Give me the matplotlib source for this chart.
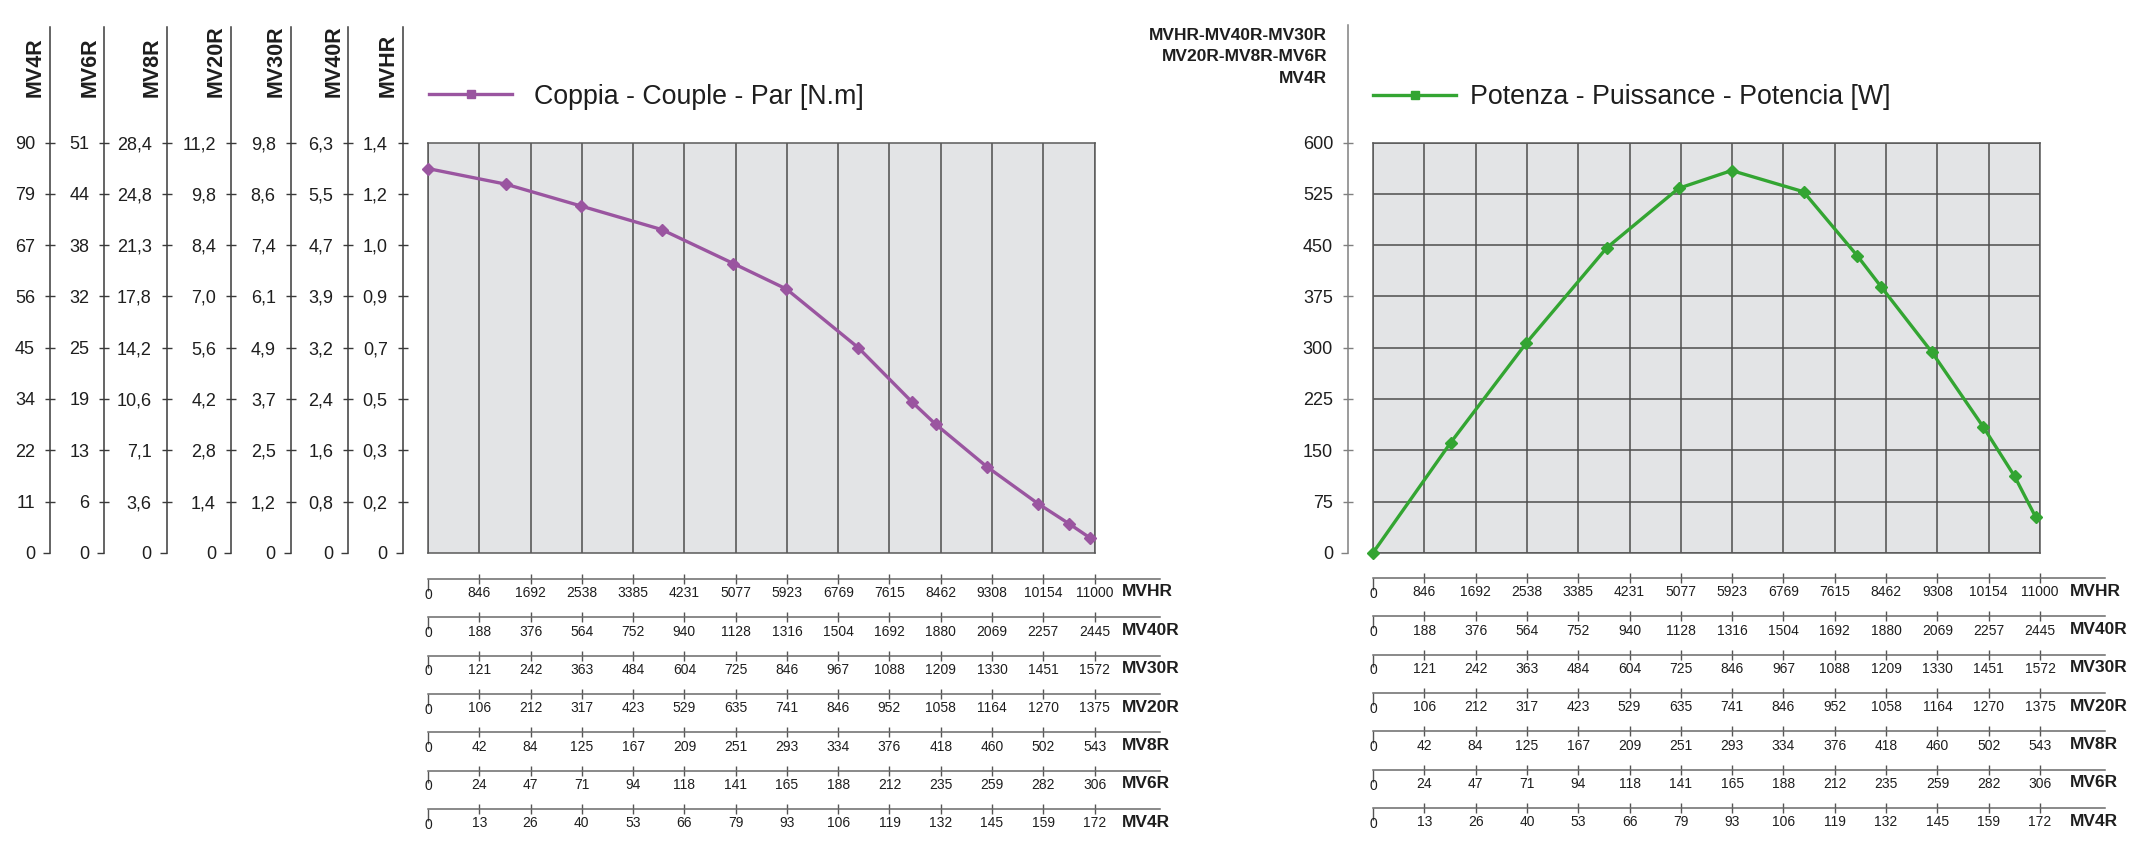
import matplotlib
matplotlib.use('Agg')
import matplotlib.pyplot as plt
from matplotlib.lines import Line2D

plt.rcParams['font.family'] = ['Liberation Sans Narrow', 'Liberation Sans', 'DejaVu Sans']

W, H, DPI = 2152, 868, 100

# ---------------- data ----------------
rpm_mvhr = [0, 1280, 2530, 3855, 5040, 5915, 7100, 7990, 8380, 9220, 10065, 10580, 10930]
torque_nm = [1.311, 1.258, 1.183, 1.103, 0.987, 0.900, 0.700, 0.514, 0.438, 0.294, 0.168, 0.099, 0.050]
power_w = [0, 161, 307, 446, 533, 559, 528, 434, 389, 293, 184, 112, 52]

y_models = ['MV4R', 'MV6R', 'MV8R', 'MV20R', 'MV30R', 'MV40R', 'MVHR']
t_mv4r = ['0', '11', '22', '34', '45', '56', '67', '79', '90']
t_mv6r = ['0', '6', '13', '19', '25', '32', '38', '44', '51']
t_mv8r = ['0', '3,6', '7,1', '10,6', '14,2', '17,8', '21,3', '24,8', '28,4']
t_mv20r = ['0', '1,4', '2,8', '4,2', '5,6', '7,0', '8,4', '9,8', '11,2']
t_mv30r = ['0', '1,2', '2,5', '3,7', '4,9', '6,1', '7,4', '8,6', '9,8']
t_mv40r = ['0', '0,8', '1,6', '2,4', '3,2', '3,9', '4,7', '5,5', '6,3']
t_mvhr = ['0', '0,2', '0,3', '0,5', '0,7', '0,9', '1,0', '1,2', '1,4']
torque_tick_labels = [t_mv4r, t_mv6r, t_mv8r, t_mv20r, t_mv30r, t_mv40r, t_mvhr]

power_ticks = [0, 75, 150, 225, 300, 375, 450, 525, 600]

x_models = ['MVHR', 'MV40R', 'MV30R', 'MV20R', 'MV8R', 'MV6R', 'MV4R']
s_mvhr = ['0', '846', '1692', '2538', '3385', '4231', '5077', '5923', '6769', '7615', '8462', '9308', '10154', '11000']
s_mv40r = ['0', '188', '376', '564', '752', '940', '1128', '1316', '1504', '1692', '1880', '2069', '2257', '2445']
s_mv30r = ['0', '121', '242', '363', '484', '604', '725', '846', '967', '1088', '1209', '1330', '1451', '1572']
s_mv20r = ['0', '106', '212', '317', '423', '529', '635', '741', '846', '952', '1058', '1164', '1270', '1375']
s_mv8r = ['0', '42', '84', '125', '167', '209', '251', '293', '334', '376', '418', '460', '502', '543']
s_mv6r = ['0', '24', '47', '71', '94', '118', '141', '165', '188', '212', '235', '259', '282', '306']
s_mv4r = ['0', '13', '26', '40', '53', '66', '79', '93', '106', '119', '132', '145', '159', '172']
speed_tick_labels = [s_mvhr, s_mv40r, s_mv30r, s_mv20r, s_mv8r, s_mv6r, s_mv4r]

rpm_max = 11000
torque_max = 1.4
power_max = 600

legend_torque = 'Coppia - Couple - Par [N.m]'
legend_power = 'Potenza - Puissance - Potencia [W]'
power_models_title = ['MVHR-MV40R-MV30R', 'MV20R-MV8R-MV6R', 'MV4R']

# ---------------- style ----------------
PURPLE = '#9a55a0'
GREEN = '#33a532'
BG = '#e3e4e6'
GRID = '#4d4d4d'
TXT = '#1e1e1e'

fig = plt.figure(figsize=(W / DPI, H / DPI), dpi=DPI)
fig.patch.set_facecolor('white')


def add_ax(x0, y0, x1, y1):
    return fig.add_axes([x0 / W, 1 - y1 / H, (x1 - x0) / W, (y1 - y0) / H])


def fx(x):
    return x / W


def fy(y):
    return 1 - y / H


PT, PB = 142.5, 552.8
LX0, LX1 = 428, 1094.6
RX0, RX1 = 1373, 2040
NDIV_X = 13
NDIV_Y = 8


def style_plot(ax, ymax, hgrid):
    ax.set_facecolor(BG)
    ax.set_xlim(0, rpm_max)
    ax.set_ylim(0, ymax)
    ax.set_xticks([rpm_max * i / NDIV_X for i in range(NDIV_X + 1)])
    ax.set_yticks([ymax * i / NDIV_Y for i in range(NDIV_Y + 1)])
    ax.tick_params(length=0, labelbottom=False, labelleft=False)
    ax.grid(axis='x', color=GRID, lw=1.1)
    if hgrid:
        ax.grid(axis='y', color=GRID, lw=1.1)
    for s in ax.spines.values():
        s.set_color('#5a5a5a')
        s.set_linewidth(1.1)
    ax.set_axisbelow(True)


# torque plot
ax1 = add_ax(LX0, PT, LX1, PB)
style_plot(ax1, torque_max, False)
ax1.plot(rpm_mvhr, torque_nm, color=PURPLE, lw=2.4, marker='D', ms=6.5, clip_on=False, zorder=5)

# power plot
ax2 = add_ax(RX0, PT, RX1, PB)
style_plot(ax2, power_max, True)
ax2.plot(rpm_mvhr, power_w, color=GREEN, lw=2.4, marker='D', ms=6.5, clip_on=False, zorder=5)

# legends
h1 = Line2D([], [], color=PURPLE, lw=2.4, marker='s', ms=6)
leg1 = fig.legend([h1], [legend_torque], loc='center left', bbox_to_anchor=(fx(429), fy(96.7)),
                  frameon=False, fontsize=19.3, handlelength=3.1, handletextpad=0.82,
                  borderpad=0, borderaxespad=0, numpoints=1)
h2 = Line2D([], [], color=GREEN, lw=2.4, marker='s', ms=6)
leg2 = fig.legend([h2], [legend_power], loc='center left', bbox_to_anchor=(fx(1373), fy(97.5)),
                  frameon=False, fontsize=19.3, handlelength=3.1, handletextpad=0.5,
                  borderpad=0, borderaxespad=0, numpoints=1)
for lg in (leg1, leg2):
    for t in lg.get_texts():
        t.set_color(TXT)


def vertical_axis(xpos, top, ticks_pos, labels, ymax_axis, color):
    ax = add_ax(xpos, top, xpos + 2, PB)
    ax.set_ylim(0, ymax_axis)
    ax.patch.set_alpha(0)
    for k in ('top', 'right', 'bottom'):
        ax.spines[k].set_visible(False)
    ax.spines['left'].set_color(color)
    ax.spines['left'].set_linewidth(1.1)
    ax.set_xticks([])
    ax.set_yticks(ticks_pos[1:])
    ax.set_yticklabels(labels[1:])
    ax.set_yticks(ticks_pos[:1], minor=True)
    ax.set_yticklabels(labels[:1], minor=True)
    ax.tick_params(axis='y', which='major', direction='inout', length=7.2, width=1.0,
                   color=color, pad=7.2, labelsize=13, labelcolor=TXT)
    ax.tick_params(axis='y', which='minor', direction='out', length=5, width=1.0,
                   color=color, pad=5.8, labelsize=13, labelcolor=TXT)
    return ax


# left multiple y axes
y_axis_x = [50, 104.3, 166.7, 231, 290.7, 348.3, 402.7]
ext_top = 26.7
ydiv_top = NDIV_Y * (PB - ext_top) / (PB - PT)
for xpos, name, labels in zip(y_axis_x, y_models, torque_tick_labels):
    vertical_axis(xpos, ext_top, list(range(NDIV_Y + 1)), labels, ydiv_top, '#3a3a3a')
    fig.text(fx(xpos - 14.5), fy(97), name, rotation=90, ha='center', va='bottom',
             fontsize=15.5, fontweight='bold', color=TXT)

# right y axis
r_top = 25
vertical_axis(1348, r_top, power_ticks, [str(v) for v in power_ticks],
              power_max * (PB - r_top) / (PB - PT), '#808080')
for txt, base in zip(power_models_title, [40, 61, 82.7]):
    fig.text(fx(1327.3), fy(base), txt, ha='right', va='baseline', fontsize=12.5,
             fontweight='bold', color=TXT)


def horizontal_axis(x0, x1_plot, x_end, yline, labels, name, name_x):
    ax = add_ax(x0, yline - 2, x_end, yline)
    ndiv_end = NDIV_X * (x_end - x0) / (x1_plot - x0)
    ax.set_xlim(0, ndiv_end)
    ax.patch.set_alpha(0)
    for k in ('top', 'right', 'left'):
        ax.spines[k].set_visible(False)
    ax.spines['bottom'].set_color('#6a6a6a')
    ax.spines['bottom'].set_linewidth(1.1)
    ax.set_yticks([])
    ax.set_xticks(list(range(1, NDIV_X + 1)))
    ax.set_xticklabels(labels[1:])
    ax.set_xticks([0], minor=True)
    ax.set_xticklabels(labels[:1], minor=True)
    ax.tick_params(axis='x', which='major', direction='inout', length=7.2, width=1.0,
                   color='#555555', pad=1.7, labelsize=10, labelcolor=TXT)
    ax.tick_params(axis='x', which='minor', direction='out', length=8.6, width=1.0,
                   color='#555555', pad=-2.3, labelsize=10, labelcolor=TXT)
    fig.text(fx(name_x), fy(yline + 17.5), name, ha='left', va='baseline', fontsize=12.5,
             fontweight='bold', color=TXT)


for k, (name, labels) in enumerate(zip(x_models, speed_tick_labels)):
    horizontal_axis(LX0, LX1, 1160, 579.0 + k * 38.35, labels, name, 1122)
    horizontal_axis(RX0, RX1, 2105, 578.0 + k * 38.35, labels, name, 2070)

fig.savefig('out.png', dpi=DPI, facecolor='white')
